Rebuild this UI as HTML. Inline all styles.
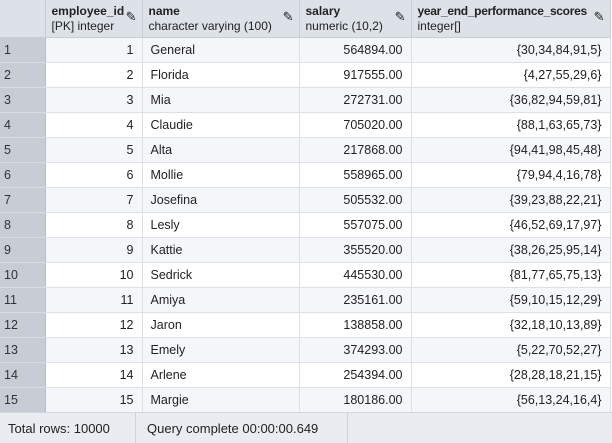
<!DOCTYPE html>
<html><head><meta charset="utf-8"><style>
body{margin:0;width:612px;height:442px;overflow:hidden;background:#fff;font-family:"Liberation Sans",Arial,sans-serif;font-size:12.5px;color:#222}
table{border-collapse:collapse;table-layout:fixed;position:absolute;left:0;top:0}
th{background:#dde1e8;height:32px;box-sizing:border-box;text-align:left;vertical-align:top;padding:4px 6px 0;font-weight:normal;font-size:12px;line-height:15px;border-right:1px solid #c9ced6;border-bottom:1px solid #c9ced6;position:relative;color:#222}
th b{font-weight:bold;color:#222}
th .pen{position:absolute;right:5px;top:9px;font-size:13px}
td{height:24px;padding:0 8px;border-right:1px solid #dde1e6;border-bottom:1px solid #dde1e6;white-space:nowrap}
td.rn{background:#c7ccd5;color:#333;padding-left:4px;border-bottom:1px solid #d8dce2;border-right:1px solid #b9bec8}
tr.odd td{background:#f4f6f9}
tr.odd td.rn{background:#c7ccd5}
.r{text-align:right}
#footer{position:absolute;left:0;top:412px;width:612px;height:30px;background:#e9ecf0;border-top:1px solid #d5d9df;font-size:13px;color:#222}
#footer span{position:absolute;top:8px}
.div{position:absolute;top:0;width:1px;height:30px;background:#d0d4da}
</style></head><body>
<table>
<colgroup><col style="width:45px"><col style="width:97px"><col style="width:157px"><col style="width:112px"><col style="width:199px"></colgroup>
<thead><tr style="height:37px">
<th></th>
<th><b>employee_id</b><br>[PK] integer<span class="pen">✎</span></th>
<th><b>name</b><br>character varying (100)<span class="pen">✎</span></th>
<th><b>salary</b><br>numeric (10,2)<span class="pen">✎</span></th>
<th><b style="letter-spacing:-0.3px">year_end_performance_scores</b><br>integer[]<span class="pen">✎</span></th>
</tr></thead>
<tbody id="tb"></tbody>
</table>
<div id="footer">
<span style="left:8px">Total rows: 10000</span>
<div class="div" style="left:135px"></div>
<span style="left:147px">Query complete 00:00:00.649</span>
<div class="div" style="left:347px"></div>
</div>
<script>
const names=["General","Florida","Mia","Claudie","Alta","Mollie","Josefina","Lesly","Kattie","Sedrick","Amiya","Jaron","Emely","Arlene","Margie"];
const salaries=["564894.00","917555.00","272731.00","705020.00","217868.00","558965.00","505532.00","557075.00","355520.00","445530.00","235161.00","138858.00","374293.00","254394.00","180186.00"];
const scores=["{30,34,84,91,5}","{4,27,55,29,6}","{36,82,94,59,81}","{88,1,63,65,73}","{94,41,98,45,48}","{79,94,4,16,78}","{39,23,88,22,21}","{46,52,69,17,97}","{38,26,25,95,14}","{81,77,65,75,13}","{59,10,15,12,29}","{32,18,10,13,89}","{5,22,70,52,27}","{28,28,18,21,15}","{56,13,24,16,4}"];
const tb=document.getElementById('tb');
names.forEach((n,i)=>{
 const tr=document.createElement('tr');
 
 
 if(i%2===0)tr.className='odd';
 const cells=[[String(i+1),'rn'],[String(i+1),'r'],[n,''],[salaries[i],'r'],[scores[i],'r']];
 const nm=['row-number','employee-id-cell','name-cell','salary-cell','scores-cell'];
 cells.forEach((c,j)=>{
  const td=document.createElement('td');
  td.textContent=c[0];
  if(c[1])td.className=c[1];
  
  
  tr.appendChild(td);
 });
 tb.appendChild(tr);
});
</script>
</body></html>
